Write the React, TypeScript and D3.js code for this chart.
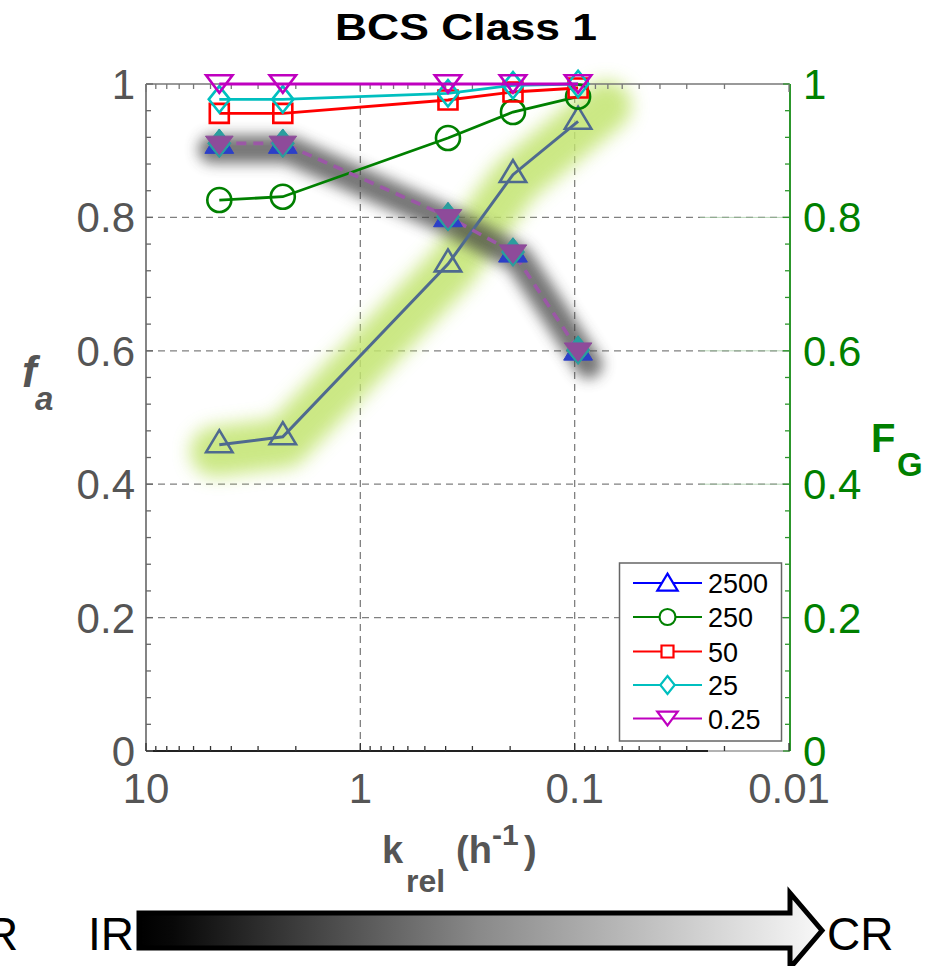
import React from "react";
import * as d3 from "d3";

// release rate constants (h^-1)
const kRel = [4.55, 2.3, 0.39, 0.194, 0.0964];
// F_G for each dose
const fg2500 = [0.459, 0.471, 0.73, 0.864, 0.944];
const fg250 = [0.826, 0.831, 0.919, 0.958, 0.981];
const fg50 = [0.956, 0.956, 0.976, 0.988, 0.994];
const fg25 = [0.977, 0.977, 0.986, 0.998, 1.0];
const fg025 = [1.0, 1.0, 1.0, 1.0, 1.0];
// f_a (identical for all doses)
const faAll = [0.911, 0.911, 0.801, 0.748, 0.601];

const doseLabels = ["2500", "250", "50", "25", "0.25"];
const yTicks = [0, 0.2, 0.4, 0.6, 0.8, 1];
const yTickLabels = ["0", "0.2", "0.4", "0.6", "0.8", "1"];
const xTicks = [10, 1, 0.1, 0.01];
const xTickLabels = ["10", "1", "0.1", "0.01"];

const W = 933;
const H = 966;
const L = 146;
const R = 789;
const T = 84;
const B = 751;
const FONT = "'Liberation Sans', Arial, Helvetica, sans-serif";
const GRAY = "#555555";
const GREEN = "#008000";

const x = d3.scaleLog().domain([10, 0.01]).range([L, R]);
const y = d3.scaleLinear().domain([0, 1]).range([B, T]);

type Shape = "up" | "circle" | "square" | "diamond" | "down";

function markerPath(shape: Shape, cx: number, cy: number, s: number): string {
  const p = d3.path();
  if (shape === "up") {
    const w = s * 0.6;
    const h = s;
    p.moveTo(cx, cy - (2 * h) / 3);
    p.lineTo(cx + w, cy + h / 3);
    p.lineTo(cx - w, cy + h / 3);
    p.closePath();
  } else if (shape === "down") {
    const w = s * 0.6;
    const h = s * 0.8;
    p.moveTo(cx - w, cy - h / 2);
    p.lineTo(cx + w, cy - h / 2);
    p.lineTo(cx, cy + h / 2);
    p.closePath();
  } else if (shape === "square") {
    p.rect(cx - s / 2, cy - s / 2, s, s);
  } else if (shape === "diamond") {
    p.moveTo(cx, cy - s * 0.6);
    p.lineTo(cx + s * 0.48, cy);
    p.lineTo(cx, cy + s * 0.6);
    p.lineTo(cx - s * 0.48, cy);
    p.closePath();
  } else {
    p.arc(cx, cy, s / 2, 0, Math.PI * 2);
    p.closePath();
  }
  return p.toString();
}

type Series = {
  label: string;
  values: number[];
  color: string;
  legendColor: string;
  shape: Shape;
  size: number;
  legendSize: number;
};

const series: Series[] = [
  { label: doseLabels[0], values: fg2500, color: "#4f6a8f", legendColor: "#0000ff", shape: "up", size: 22, legendSize: 17 },
  { label: doseLabels[1], values: fg250, color: GREEN, legendColor: GREEN, shape: "circle", size: 24, legendSize: 16 },
  { label: doseLabels[2], values: fg50, color: "#ff0000", legendColor: "#ff0000", shape: "square", size: 19, legendSize: 12 },
  { label: doseLabels[3], values: fg25, color: "#00bfbf", legendColor: "#00bfbf", shape: "diamond", size: 22, legendSize: 15 },
  { label: doseLabels[4], values: fg025, color: "#bf00bf", legendColor: "#bf00bf", shape: "down", size: 22, legendSize: 17 },
];

// extend a polyline at both ends along its first/last segment
function extended(pts: [number, number][], startExt: number, endExt: number): [number, number][] {
  const [a, b] = [pts[0], pts[1]];
  const da = Math.hypot(b[0] - a[0], b[1] - a[1]);
  const s: [number, number] = [a[0] - ((b[0] - a[0]) / da) * startExt, a[1] - ((b[1] - a[1]) / da) * startExt];
  const n = pts.length;
  const [c, d] = [pts[n - 2], pts[n - 1]];
  const dc = Math.hypot(d[0] - c[0], d[1] - c[1]);
  const e: [number, number] = [d[0] + ((d[0] - c[0]) / dc) * endExt, d[1] + ((d[1] - c[1]) / dc) * endExt];
  return [s, ...pts, e];
}

export default function App() {
  const line = d3.line<[number, number]>();
  const pts = (vals: number[]) => kRel.map((k, i) => [x(k), y(vals[i])] as [number, number]);

  const glowPts = extended(pts(fg2500), 6, 34).map(([a, b]) => [a + 2, b + 6] as [number, number]);
  const shadowPts = extended(pts(faAll), 12, 10).map(([a, b]) => [a + 5, b + 6] as [number, number]);

  const minorY = d3.range(0, 1.0001, 0.04).map((v) => +v.toFixed(2));
  const minorX: number[] = [];
  [10, 1, 0.1].forEach((dec) => {
    for (let m = 2; m <= 9; m++) minorX.push((dec / 10) * m);
  });

  const legendRows = [583, 617, 651.5, 685, 718.5];

  return (
    <svg
      width={W}
      height={H}
      style={{ position: "absolute", left: 0, top: 0, background: "#ffffff" }}
      fontFamily={FONT}
    >
      <defs>
        <filter id="glowBlur" x="-20%" y="-20%" width="140%" height="140%">
          <feGaussianBlur stdDeviation="9" />
        </filter>
        <filter id="shadowBlur" x="-20%" y="-20%" width="140%" height="140%">
          <feGaussianBlur stdDeviation="7" />
        </filter>
        <linearGradient id="arrowFill" x1="0" x2="1" y1="0" y2="0">
          <stop offset="0" stopColor="#000000" />
          <stop offset="0.05" stopColor="#080808" />
          <stop offset="0.5" stopColor="#8a8a8a" />
          <stop offset="1" stopColor="#f8f8f8" />
        </linearGradient>
      </defs>

      <rect x={0} y={0} width={W} height={H} fill="#ffffff" />

      {/* title */}
      <text
        x={466}
        y={40}
        textAnchor="middle"
        fontSize={37}
        fontWeight="bold"
        fill="#000"
        textLength={262}
        lengthAdjust="spacingAndGlyphs"
      >
        BCS Class 1
      </text>

      {/* dashed grid */}
      {yTicks.slice(1, -1).map((v) => (
        <line key={"gy" + v} x1={L} x2={R} y1={y(v)} y2={y(v)} stroke="#808080" strokeWidth={1.3} strokeDasharray="7,5" />
      ))}
      {yTicks.slice(2, -1).map((v) => (
        <line key={"gr" + v} x1={700} x2={R} y1={y(v)} y2={y(v)} stroke="#9cc79c" strokeWidth={1} opacity={0.7} />
      ))}
      {[1, 0.1].map((v) => (
        <line key={"gx" + v} x1={x(v)} x2={x(v)} y1={T} y2={B} stroke="#808080" strokeWidth={1.3} strokeDasharray="7,5" />
      ))}

      {/* highlight bands */}
      <path d={line(glowPts) || ""} fill="none" stroke="#c2e46f" strokeWidth={50} strokeLinecap="round" strokeLinejoin="round" opacity={0.85} filter="url(#glowBlur)" />
      <path d={line(shadowPts) || ""} fill="none" stroke="#3f3f3f" strokeWidth={28} strokeLinecap="round" strokeLinejoin="round" opacity={0.72} filter="url(#shadowBlur)" />

      {/* axes box */}
      <line x1={L} x2={L} y1={T} y2={B} stroke="#666" strokeWidth={1.6} />
      <line x1={L} x2={R} y1={T} y2={T} stroke="#777" strokeWidth={1.5} />
      <line x1={L} x2={708} y1={B} y2={B} stroke="#222" strokeWidth={1.8} />
      <line x1={708} x2={R} y1={B} y2={B} stroke="#999" strokeWidth={1.5} />
      <line x1={R + 1} x2={R + 1} y1={T} y2={B} stroke="#2c962c" strokeWidth={2} />

      {/* y ticks left & right */}
      {minorY.map((v) => {
        const major = Math.abs(v * 5 - Math.round(v * 5)) < 1e-6;
        const len = major ? 7 : 5;
        return (
          <g key={"ty" + v}>
            <line x1={L} x2={L + len} y1={y(v)} y2={y(v)} stroke="#666" strokeWidth={1.3} />
            <line x1={R + 1} x2={R + 1 - len} y1={y(v)} y2={y(v)} stroke="#2c962c" strokeWidth={1.3} />
          </g>
        );
      })}

      {/* x ticks bottom & top */}
      {[...xTicks, ...minorX].map((v, i) => {
        const len = i < xTicks.length ? 8 : 5;
        return (
          <g key={"tx" + i}>
            <line x1={x(v)} x2={x(v)} y1={B} y2={B - len} stroke="#333" strokeWidth={1.3} />
            <line x1={x(v)} x2={x(v)} y1={T} y2={T + len} stroke="#777" strokeWidth={1.3} />
          </g>
        );
      })}

      {/* tick labels */}
      {yTicks.map((v, i) => (
        <text key={"ly" + v} x={135} y={y(v) + 15} textAnchor="end" fontSize={42} fill={GRAY}>
          {yTickLabels[i]}
        </text>
      ))}
      {yTicks.map((v, i) => (
        <text key={"ry" + v} x={803} y={y(v) + 15} textAnchor="start" fontSize={42} fill={GREEN}>
          {yTickLabels[i]}
        </text>
      ))}
      {xTicks.map((v, i) => (
        <text key={"lx" + v} x={x(v)} y={803} textAnchor="middle" fontSize={42} fill={GRAY}>
          {xTickLabels[i]}
        </text>
      ))}

      {/* axis labels */}
      <text x={22} y={387} fontSize={44} fontWeight="bold" fontStyle="italic" fill={GRAY}>
        f
      </text>
      <text x={35} y={410} fontSize={33} fontWeight="bold" fontStyle="italic" fill={GRAY}>
        a
      </text>
      <text x={871} y={452} fontSize={40} fontWeight="bold" fill={GREEN}>
        F
      </text>
      <text x={897} y={476} fontSize={33} fontWeight="bold" fill={GREEN}>
        G
      </text>
      <text x={382} y={863} fontSize={38} fontWeight="bold" fill={GRAY}>
        k
      </text>
      <text x={406} y={892} fontSize={32} fontWeight="bold" fill={GRAY}>
        rel
      </text>
      <text x={456} y={863} fontSize={38} fontWeight="bold" fill={GRAY}>
        (h
      </text>
      <text x={492} y={845} fontSize={30} fontWeight="bold" fill={GRAY}>
        -1
      </text>
      <text x={524} y={863} fontSize={38} fontWeight="bold" fill={GRAY}>
        )
      </text>

      {/* F_G series */}
      {series.map((s) => (
        <g key={"s" + s.label}>
          <path d={line(pts(s.values)) || ""} fill="none" stroke={s.color} strokeWidth={s.shape === "up" ? 3 : 2.8} />
          {pts(s.values).map(([px, py], i) => (
            <path key={i} d={markerPath(s.shape, px, py, s.size)} fill="none" stroke={s.color} strokeWidth={2.6} strokeLinejoin="miter" />
          ))}
        </g>
      ))}

      {/* f_a series */}
      <path d={line(pts(faAll)) || ""} fill="none" stroke="#9b58a6" strokeWidth={3.6} strokeDasharray="10,7" />
      {pts(faAll).map(([px, py], i) => (
        <g key={"fa" + i}>
          <path d={markerPath("up", px, py + 2, 24)} fill="#2c3fc8" stroke="#2c3fc8" strokeWidth={1} />
          <path d={markerPath("diamond", px, py, 24)} fill="#2a9e9e" stroke="#2a9e9e" strokeWidth={1} />
          <path d={markerPath("down", px, py + 2, 23)} fill="#8e4b9a" stroke="#8e4b9a" strokeWidth={1} />
        </g>
      ))}

      {/* legend */}
      <rect x={619.5} y={563} width={162} height={178} fill="#ffffff" stroke="#666" strokeWidth={1.5} />
      {series.map((s, i) => (
        <g key={"lg" + s.label}>
          <line x1={633} x2={702} y1={legendRows[i]} y2={legendRows[i]} stroke={s.legendColor} strokeWidth={2.2} />
          <path d={markerPath(s.shape, 667.5, legendRows[i] + (s.shape === "up" ? 2 : 0), s.legendSize)} fill="#fff" stroke={s.legendColor} strokeWidth={2.2} />
          <text x={708} y={legendRows[i] + 10} fontSize={27} fill="#000">
            {s.label}
          </text>
        </g>
      ))}

      {/* release-mode arrow */}
      <path
        d="M139,913 L790,913 L790,893 L822,930.5 L790,968 L790,948 L139,948 Z"
        fill="url(#arrowFill)"
        stroke="#000"
        strokeWidth={5}
        strokeLinejoin="miter"
      />
      <text x={-15} y={950} fontSize={46} fill="#000">
        R
      </text>
      <text x={88} y={950} fontSize={46} fill="#000">
        IR
      </text>
      <text x={827} y={950} fontSize={46} fill="#000">
        CR
      </text>
    </svg>
  );
}
